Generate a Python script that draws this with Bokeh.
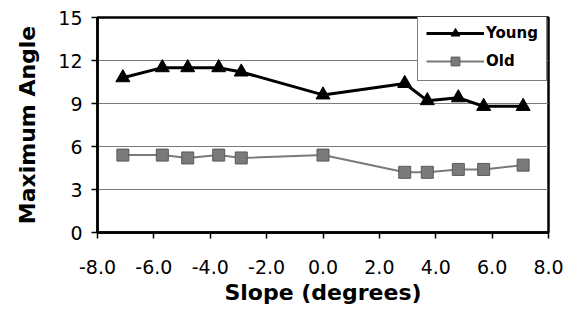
from bokeh.plotting import figure
from bokeh.models import Range1d, FixedTicker, Legend, LegendItem, PrintfTickFormatter
from bokeh.embed import file_html
from bokeh.resources import INLINE

slope = [-7.1, -5.7, -4.8, -3.7, -2.9, 0.0, 2.9, 3.7, 4.8, 5.7, 7.1]
young = [10.8, 11.5, 11.5, 11.5, 11.2, 9.6, 10.4, 9.2, 9.4, 8.8, 8.8]
old = [5.4, 5.4, 5.2, 5.4, 5.2, 5.4, 4.2, 4.2, 4.4, 4.4, 4.7]
x_ticks = [-8, -6, -4, -2, 0, 2, 4, 6, 8]
y_ticks = [0, 3, 6, 9, 12, 15]

W, H = 571, 312
p = figure(width=W, height=H, output_backend="svg", toolbar_location=None,
           x_range=Range1d(-8, 8), y_range=Range1d(0, 15),
           min_border_left=97, min_border_right=W - 548, min_border_top=17,
           min_border_bottom=H - 232)
p.background_fill_color = "white"
p.border_fill_color = "white"
p.outline_line_color = "black"
p.outline_line_width = 2.5

p.xgrid.grid_line_color = None
p.ygrid.grid_line_color = "#7a7a7a"
p.ygrid.grid_line_width = 1
p.ygrid.ticker = FixedTicker(ticks=y_ticks)

p.xaxis.ticker = FixedTicker(ticks=x_ticks)
p.yaxis.ticker = FixedTicker(ticks=y_ticks)
p.xaxis.formatter = PrintfTickFormatter(format="%.1f")
for ax in (p.xaxis, p.yaxis):
    ax.axis_line_color = "black"
    ax.axis_line_width = 2.5
    ax.major_tick_line_color = "black"
    ax.major_tick_line_width = 1.5
    ax.major_tick_in = 0
    ax.major_tick_out = 6
    ax.minor_tick_line_color = None
    ax.major_label_text_font = "DejaVu Sans"
    ax.major_label_text_font_size = "19px"
    ax.major_label_text_color = "black"
    ax.axis_label_text_font = "DejaVu Sans"
    ax.axis_label_text_font_style = "bold"
    ax.axis_label_text_font_size = "22px"
    ax.axis_label_text_color = "black"
p.xaxis.axis_label = "Slope (degrees)"
p.yaxis.axis_label = "Maximum Angle"
p.xaxis.major_label_standoff = 21
p.xaxis.axis_label_standoff = 3
p.yaxis.major_label_standoff = 9
p.yaxis.axis_label_standoff = 15

ly = p.line(slope, young, line_color="black", line_width=3)
my = p.scatter(slope, young, marker="triangle", size=14, fill_color="black", line_color="black")
lo = p.line(slope, old, line_color="#7a7a7a", line_width=2)
mo = p.scatter(slope, old, marker="square", size=12, fill_color="#7a7a7a", line_color="#5a5a5a")

legend = Legend(items=[LegendItem(label="Young", renderers=[ly, my]),
                       LegendItem(label="Old", renderers=[lo, mo])],
                location=(320, 151), margin=0, padding=8, spacing=6,
                glyph_width=58, glyph_height=22, label_standoff=2,
                label_text_font="DejaVu Sans", label_text_font_style="bold",
                label_text_font_size="15px", label_text_color="black",
                border_line_color="black", border_line_width=1.2,
                background_fill_color="white", background_fill_alpha=1)
p.add_layout(legend)

open("out.html", "w").write(file_html(p, INLINE))
